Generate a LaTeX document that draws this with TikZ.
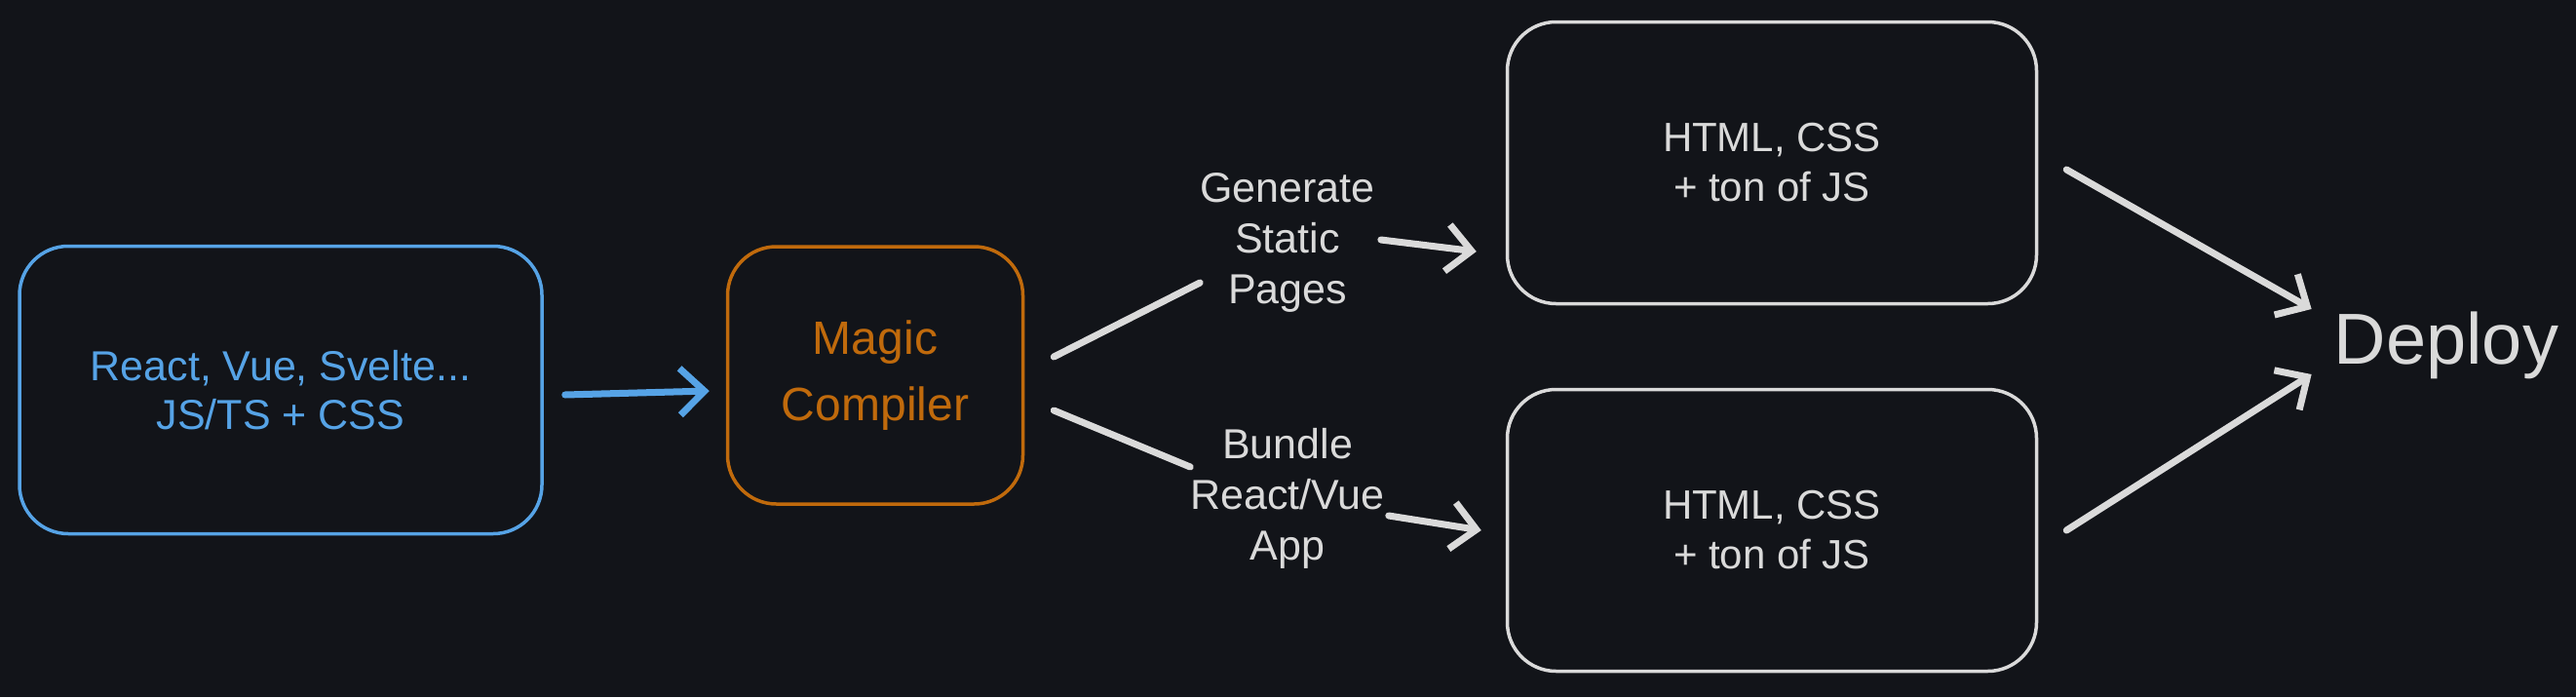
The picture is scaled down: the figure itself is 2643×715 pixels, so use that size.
\documentclass[tikz,border=0pt]{standalone}
\usepackage{fontspec}
\setmainfont{Liberation Sans}
\usepackage{tikz}
\usetikzlibrary{arrows.meta}
\definecolor{bg}{HTML}{121419}
\definecolor{sblue}{HTML}{56A3E6}
\definecolor{orange}{HTML}{C06A0C}
\definecolor{lgray}{HTML}{DADADA}
\tikzstyle{srcbox} = [rectangle, rounded corners=50pt,
minimum width=536pt,
minimum height=295pt,
align=center,
line width=3.5pt,
draw=sblue, text=sblue,
font=\fontsize{43}{50}\selectfont]
\tikzstyle{magic} = [rectangle, rounded corners=50pt,
minimum width=303pt,
minimum height=264pt,
align=center,
line width=3.5pt,
draw=orange, text=orange,
font=\fontsize{48}{68}\selectfont]
\tikzstyle{outbox} = [rectangle, rounded corners=50pt,
minimum width=543pt,
minimum height=289pt,
align=center,
line width=3.5pt,
draw=lgray, text=lgray,
font=\fontsize{42}{51}\selectfont]
\tikzstyle{lbl} = [align=center, text=lgray, inner sep=0pt,
font=\fontsize{43}{52}\selectfont]
\tikzstyle{wline} = [line width=7pt, lgray, line cap=round]
\tikzstyle{arrow} = [line width=7pt, line cap=round, line join=round, ->,
>={Straight Barb[length=25pt,width=48pt]}]

\begin{document}
\begin{tikzpicture}[x=1pt, y=-1pt]
\fill[bg] (0,0) rectangle (2643,715);
\useasboundingbox (0,0) rectangle (2643,715);
\node (src) [srcbox] at (288,400) {React, Vue, Svelte...\\JS/TS + CSS};
\node (mc) [magic] at (898,385) {Magic\\Compiler};
\node (top) [outbox] at (1818,167) {HTML, CSS\\+ ton of JS};
\node (bot) [outbox] at (1818,544) {HTML, CSS\\+ ton of JS};
\node (gen) [lbl] at (1321,249) {Generate\\Static\\Pages};
\node (bun) [lbl] at (1321,511) {Bundle\\React/Vue\\App};
\node (deploy) [text=lgray, inner sep=0pt, font=\fontsize{74}{74}\selectfont] at (2510,354) {Deploy};

\draw [arrow, sblue] ([xshift=22pt, yshift=-5pt]src.east) -- ([xshift=-17pt, yshift=-16pt]mc.west);
\draw [wline] ([xshift=30pt, yshift=19pt]mc.east) -- ([yshift=-41pt]gen.west);
\draw [arrow, lgray] ([xshift=6pt, yshift=3pt]gen.east) -- ([xshift=-30pt, yshift=-91pt]top.west);
\draw [wline] ([xshift=30pt, yshift=-36pt]mc.east) -- ([yshift=32pt]bun.west);
\draw [arrow, lgray] ([xshift=4pt, yshift=-18pt]bun.east) -- ([xshift=-25pt]bot.west);
\draw [arrow, lgray] ([xshift=29pt, yshift=-7pt]top.east) -- ([xshift=-23pt, yshift=37pt]deploy.west);
\draw [arrow, lgray] ([xshift=29pt]bot.east) -- ([xshift=-23pt, yshift=-30pt]deploy.west);

\end{tikzpicture}
\end{document}
